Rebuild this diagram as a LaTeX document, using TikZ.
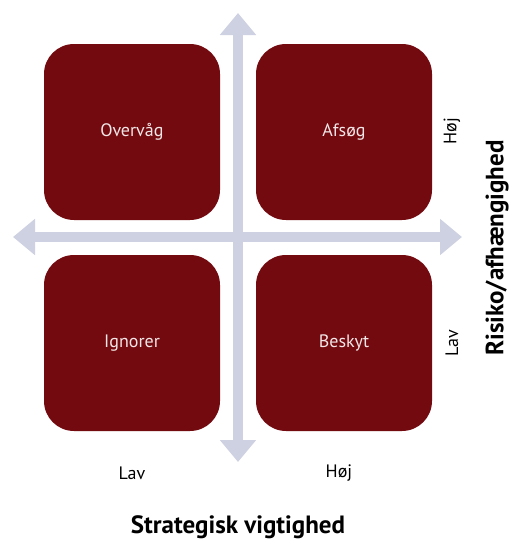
\documentclass[tikz,border=0pt]{standalone}
\usepackage{fontspec}
\setmainfont{PT Sans}
\usetikzlibrary{arrows.meta}
\definecolor{boxred}{HTML}{730A10}
\definecolor{axisgray}{HTML}{CDD1E1}
\definecolor{boxtext}{HTML}{F2E6E6}
\tikzset{
  quad/.style={fill=boxred, draw=none, rounded corners=30pt, minimum width=176pt, minimum height=176pt, inner sep=0pt, text=boxtext, font=\fontsize{18}{21}\selectfont},
  axis/.style={draw=axisgray, line width=10pt, {Triangle[length=22pt,width=35pt]}-{Triangle[length=22pt,width=35pt]}},
  lvl/.style={font=\fontsize{18}{21}\selectfont, text=black},
  ttl/.style={font=\fontsize{25}{28}\selectfont\bfseries, text=black}
}
\begin{document}
\begin{tikzpicture}[x=1pt,y=-1pt]
\useasboundingbox (0,0) rectangle (510,539);
\coordinate (vt) at (238,13);
\coordinate (vb) at (238,462);
\coordinate (hl) at (13,237);
\coordinate (hr) at (462,237);
\draw[axis] (vb) -- (vt);
\draw[axis] (hl) -- (hr);
\node[quad] (ov) at (132,132) {Overvåg};
\node[quad] (af) at (344,132) {Afsøg};
\node[quad] (ig) at (132,343) {Ignorer};
\node[quad] (be) at (344,343) {Beskyt};
\node[lvl] (xl) at (132,473) {Lav};
\node[lvl] (xh) at (339,473) {Høj};
\node[lvl, rotate=90] (yh) at (452,131) {Høj};
\node[lvl, rotate=90] (yl) at (452,343) {Lav};
\node[ttl] (xt) at (238,527) {Strategisk vigtighed};
\node[ttl, rotate=90] (yt) at (497,248) {Risiko/afhængighed};
\end{tikzpicture}
\end{document}
